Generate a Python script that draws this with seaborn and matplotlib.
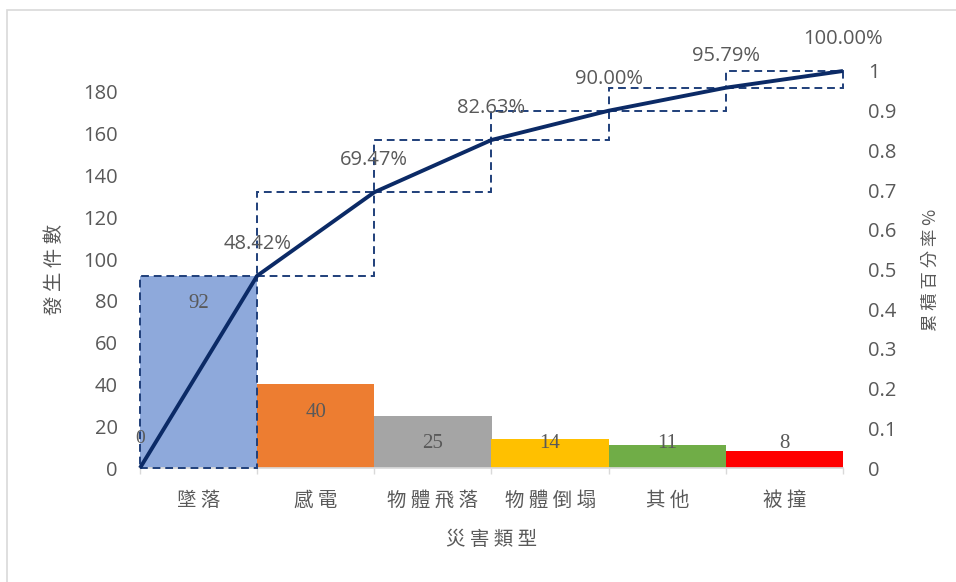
import matplotlib
matplotlib.use("Agg")
import matplotlib.pyplot as plt
import matplotlib.patches as mpatches
from matplotlib.ticker import FixedLocator, FuncFormatter
import numpy as np
import pandas as pd
import seaborn as sns

# ---- data ----
categories = ["墜落", "感電", "物體飛落", "物體倒塌", "其他", "被撞"]
counts = [92, 40, 25, 14, 11, 8]
cum_pct = [0.4842, 0.6947, 0.8263, 0.9000, 0.9579, 1.0000]
cum_labels = ["48.42%", "69.47%", "82.63%", "90.00%", "95.79%", "100.00%"]
bar_colors = ["#8EA9DB", "#ED7D31", "#A5A5A5", "#FFC000", "#70AD47", "#FF0000"]
left_ticks = [0, 20, 40, 60, 80, 100, 120, 140, 160, 180]
right_ticks = [0, 0.1, 0.2, 0.3, 0.4, 0.5, 0.6, 0.7, 0.8, 0.9, 1.0]
x_title = "災害類型"
y_title = "發生件數"
y2_title = "累積百分率%"

sns.set_theme(style="white")
plt.rcParams["font.family"] = ["Open Sans", "Noto Sans CJK TC", "DejaVu Sans"]

TXT = "#595959"
LINE = "#0B2A66"
CJK = ["Noto Sans CJK TC", "DejaVu Sans"]
SERIF = ["Liberation Serif", "DejaVu Serif"]


def spaced(s):
    return " ".join(list(s))


fig = plt.figure(figsize=(9.56, 5.82), dpi=100)
ax = fig.add_axes([140 / 956, 1 - 468 / 582, (843 - 140) / 956, (468 - 71) / 582])

df = pd.DataFrame({"cat": categories, "n": counts})
sns.barplot(data=df, x="cat", y="n", hue="cat", palette=bar_colors, dodge=False,
            width=1.0, legend=False, ax=ax, saturation=1.0, zorder=1,
            linewidth=0, edgecolor="none")

n = len(categories)
ax.set_xlim(-0.5, n - 0.5)
ax.set_ylim(0, sum(counts))
ax.yaxis.set_major_locator(FixedLocator(left_ticks))
ax.tick_params(axis="y", length=0, pad=16, labelsize=14.5, labelcolor=TXT)
ax.set_xticks(range(n))
ax.set_xticklabels([spaced(c) for c in categories])
ax.tick_params(axis="x", which="major", length=0, pad=16, labelcolor=TXT)
ax.xaxis.set_minor_locator(FixedLocator(np.arange(-0.5, n, 1.0)))
ax.tick_params(axis="x", which="minor", length=4, width=1, color="#D9D9D9", bottom=True)
for lbl in ax.get_xticklabels():
    lbl.set_fontfamily(CJK)
    lbl.set_fontsize(14)
ax.set_xlabel(spaced(x_title), fontfamily=CJK, fontsize=14, color=TXT, labelpad=13)
ax.set_ylabel(spaced(y_title), fontfamily=CJK, fontsize=14, color=TXT, labelpad=13)
for s in ["top", "left", "right"]:
    ax.spines[s].set_visible(False)
ax.spines["bottom"].set_color("#D9D9D9")
ax.grid(False)

# bar value labels
for i, v in enumerate(counts):
    ypos = max(v - 13.4, 11.5)
    ax.text(i, ypos, str(v), ha="center", va="center", fontfamily=SERIF,
            fontsize=15, color=TXT, zorder=3)

# ---- cumulative axis ----
ax2 = ax.twinx()
ax2.set_ylim(0, 1)
ax2.yaxis.set_major_locator(FixedLocator(right_ticks))
ax2.yaxis.set_major_formatter(FuncFormatter(lambda v, p: f"{v:g}"))
ax2.tick_params(axis="y", length=0, pad=18, labelsize=14.5, labelcolor=TXT)
for s in ax2.spines.values():
    s.set_visible(False)
ax2.grid(False)
ax2.set_ylabel(spaced(y2_title), fontfamily=CJK, fontsize=12.5, color=TXT,
               rotation=90, labelpad=18)

prev = [0.0] + cum_pct[:-1]
heights = [c - p for c, p in zip(cum_pct, prev)]
xs = np.arange(n)
ax2.bar(xs, heights, bottom=prev, width=1.0, fill=False, edgecolor="#1F3F7A",
        linestyle=(0, (4, 2.5)), linewidth=1.4, zorder=2, clip_on=False)

line_x = np.arange(-0.5, n, 1.0)
line_y = [0.0] + cum_pct
ax2.plot(line_x, line_y, color=LINE, linewidth=2.8, zorder=4, clip_on=False,
         solid_capstyle="butt")

ax2.annotate("0", (line_x[0], 0), xytext=(0, 21), textcoords="offset points",
             ha="center", va="center", fontfamily=SERIF, fontsize=14, color=TXT)
for x, y, t in zip(line_x[1:], cum_pct, cum_labels):
    ax2.annotate(t, (x, y), xytext=(0, 23), textcoords="offset points",
                 ha="center", va="center", fontsize=14.5, color=TXT, zorder=5)

# chart border
fig.patches.append(mpatches.Rectangle((7 / 956, -0.1), 1.2, 1.1 - 10 / 582,
                                      transform=fig.transFigure, fill=False,
                                      edgecolor="#D9D9D9", linewidth=1.2))

fig.savefig("out.png", dpi=100)
